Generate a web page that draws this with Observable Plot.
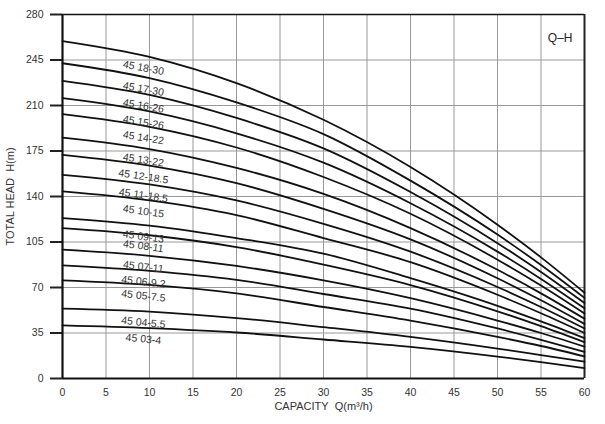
<!DOCTYPE html>
<html>
<head>
<meta charset="utf-8">
<script src="https://cdn.jsdelivr.net/npm/d3@7"></script>
<script src="https://cdn.jsdelivr.net/npm/@observablehq/plot@0.6"></script>
<style>
  html, body { margin: 0; padding: 0; background: #fff; }
  svg { display: block; }
</style>
</head>
<body>
<div id="chart"></div>
<script>
// Capacity points (m³/h) at which heads were read
const Q = [0, 10, 20, 30, 40, 50, 55, 60];

// Head (m) per model
const models = ["45 18-30","45 17-30","45 16-26","45 15-26","45 14-22","45 13-22","45 12-18.5","45 11-18.5",
                "45 10-15","45 09-13","45 08-11","45 07-11","45 06-9.2","45 05-7.5","45 04-5.5","45 03-4"];
const h18 = [259.6, 247.4, 227.2, 199, 162.7, 118.3, 93.2, 66];
const h17 = [242.5, 231.1, 212.4, 188, 152.2, 110.7, 87.3, 62];
const h16 = [228.9, 218.1, 200.4, 177, 143.4, 104.1, 81.9, 58];
const h15 = [215.6, 205.4, 188.6, 166, 134.8, 97.6, 76.6, 54];
const h14 = [203.3, 193.6, 177.7, 155, 126.7, 91.4, 71.5, 50];
const h13 = [185.3, 176.5, 162.0, 142, 115.7, 83.6, 65.5, 46];
const h12 = [172, 163.8, 150.3, 130.5, 107, 77.1, 60.2, 42];
const h11 = [156.7, 149.3, 137, 119, 97.6, 70.4, 55, 38.5];
const h10 = [143.9, 137, 125.7, 108, 89.5, 64.4, 50.2, 35];
const h09 = [123.4, 117.6, 108, 96, 77.2, 55.9, 43.9, 31];
const h08 = [115.7, 110.2, 101.1, 87.6, 71.9, 51.7, 40.3, 28];
const h07 = [99.1, 94.4, 86.6, 75.5, 61.8, 44.6, 35, 24.5];
const h06 = [87, 82.8, 75.9, 65, 53.8, 38.5, 29.8, 20.5];
const h05 = [75.5, 72, 65.5, 55, 44.5, 32, 25, 17];
const h04 = [53.8, 51.5, 46.5, 39.5, 32, 23, 18, 13];
const h03 = [40.9, 38.8, 35.4, 30, 24.4, 16.9, 12.6, 8];
const heads = [h18,h17,h16,h15,h14,h13,h12,h11,h10,h09,h08,h07,h06,h05,h04,h03];

// Axis ticks
const xTicks = [0,5,10,15,20,25,30,35,40,45,50,55,60];
const yTicks = [0,35,70,105,140,175,210,245,280];

const rows = [];
models.forEach((m, i) => heads[i].forEach((h, j) => rows.push({model: m, q: Q[j], h})));

const W = 605, H = 424, mL = 62, mR = 21, mT = 14, mB = 46;
const kx = (W - mL - mR) / 60, ky = (H - mT - mB) / 280;
const labels = models.map((m, i) => {
  const a = Math.atan(((heads[i][0] - heads[i][2]) * ky) / (20 * kx)) * 180 / Math.PI;
  return {model: m, q: 9.3, h: heads[i][1], rot: 4.5 + 0.45 * a};
});

const font = "'Liberation Sans', Arial, Helvetica, sans-serif";

const chart = Plot.plot({
  width: W, height: H,
  marginLeft: mL, marginRight: mR, marginTop: mT, marginBottom: mB,
  style: {fontFamily: font, fontSize: "10px", color: "#333", background: "#fff"},
  x: {domain: [0, 60]},
  y: {domain: [0, 280]},
  marks: [
    Plot.gridX(xTicks, {stroke: "#999", strokeOpacity: 1, strokeWidth: 1}),
    Plot.gridY(yTicks, {stroke: "#999", strokeOpacity: 1, strokeWidth: 1}),
    Plot.axisY(yTicks, {tickSize: 12, tickPadding: 7, strokeWidth: 2, stroke: "#222", label: null, fill: "#333", fontSize: 10.5}),
    Plot.axisX(xTicks, {tickSize: 0, tickPadding: 10, label: null, fill: "#333", fontSize: 10.5}),
    Plot.ruleY([280], {stroke: "#111", strokeWidth: 1.5}),
    Plot.ruleY([0], {stroke: "#111", strokeWidth: 2}),
    Plot.ruleX([0], {stroke: "#111", strokeWidth: 2.2}),
    Plot.ruleX([60], {stroke: "#222", strokeWidth: 2}),
    Plot.line(rows, {x: "q", y: "h", z: "model", curve: "monotone-x", stroke: "#111", strokeWidth: 1.8}),
    Plot.text(labels, {x: "q", y: "h", text: "model", rotate: "rot", dy: 11, fill: "#333", fontSize: 10.5}),
    Plot.text(["Q\u2013H"], {frameAnchor: "top-right", dx: -12, dy: 19, fontSize: 12, fill: "#222"}),
    Plot.text(["TOTAL HEAD\u00a0\u00a0H(m)"], {frameAnchor: "left", textAnchor: "middle", dx: -52, rotate: -90, fontSize: 11, fill: "#333"}),
    Plot.text(["CAPACITY\u00a0\u00a0Q(m\u00b3/h)"], {frameAnchor: "bottom", textAnchor: "middle", dy: 31, fontSize: 11, fill: "#333"})
  ]
});
document.getElementById("chart").appendChild(chart);
</script>
</body>
</html>
